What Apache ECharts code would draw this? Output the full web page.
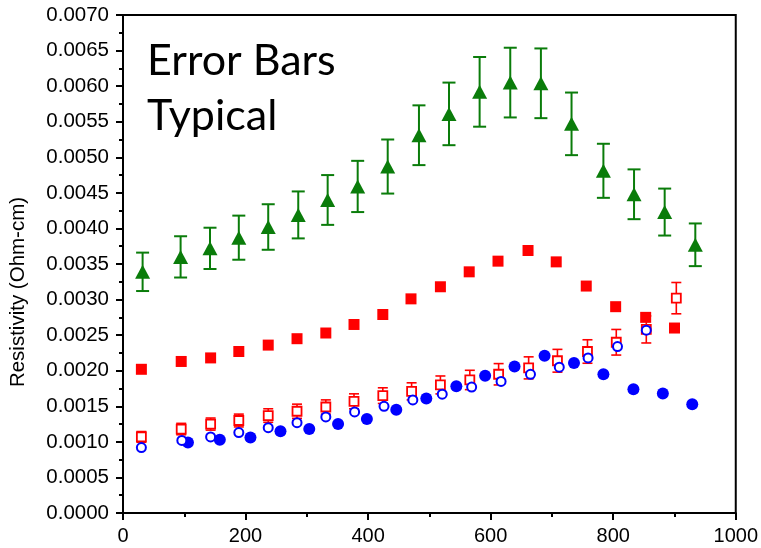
<!DOCTYPE html>
<html>
<head>
<meta charset="utf-8">
<script src="https://cdn.jsdelivr.net/npm/echarts@6/dist/echarts.min.js"></script>
<style>
  html, body { margin: 0; padding: 0; background: #fff; }
  #chart { width: 761px; height: 548px; }
</style>
</head>
<body>
<div id="chart"></div>
<script>
// Resistivity vs. position, five measurement sets

// Green triangles (with error bars)
const xGreen = [32, 94, 142, 189, 237, 286, 334, 383, 432, 483, 532, 582, 632, 682, 732, 784, 834, 884, 934];
const yGreen = [0.00339, 0.00360, 0.00372, 0.00387, 0.00402, 0.00419, 0.00440, 0.00459, 0.00487, 0.00531,
                0.00561, 0.00592, 0.00605, 0.00604, 0.00547, 0.00481, 0.00448, 0.00423, 0.00377];
const errGreen = [0.00027, 0.00029, 0.00029, 0.00031, 0.00032, 0.00033, 0.00035, 0.00036, 0.00038, 0.00042,
                  0.00044, 0.00049, 0.00049, 0.00049, 0.00044, 0.00038, 0.00035, 0.00033, 0.00030];

// Red filled squares
const xRedFilled = [30, 95, 143, 189, 237, 284, 331, 377, 424, 470, 518, 565, 612, 661, 707, 756, 804, 853, 900];
const yRedFilled = [0.00202, 0.00213, 0.00218, 0.00227, 0.00236, 0.00245, 0.00253, 0.00265, 0.00279, 0.00301,
                    0.00318, 0.00339, 0.00354, 0.00369, 0.00353, 0.00319, 0.00290, 0.00275, 0.00260];

// Red open squares (with error bars)
const xRedOpen = [30, 95, 143, 189, 237, 284, 331, 377, 424, 471, 518, 566, 613, 662, 709, 758, 805, 854, 903];
const yRedOpen = [0.00107, 0.00118, 0.00125, 0.00130, 0.00137, 0.00143, 0.00149, 0.00157, 0.00165, 0.00171,
                  0.00180, 0.00187, 0.00195, 0.00204, 0.00214, 0.00227, 0.00240, 0.00258, 0.00302];
const errRedOpen = [0.000075, 0.00008, 0.000085, 0.00009, 0.000095, 0.0001, 0.0001, 0.000105, 0.00011, 0.00012,
                    0.000126, 0.000136, 0.00015, 0.000155, 0.00016, 0.000165, 0.00018, 0.00019, 0.00022];

// Blue filled circles
const xBlueFilled = [106, 158, 208, 257, 304, 351, 398, 446, 495, 544, 591, 639, 688, 736, 784, 833, 881, 929];
const yBlueFilled = [0.00099, 0.00103, 0.00106, 0.00115, 0.00118, 0.00125, 0.00132, 0.00145, 0.00161, 0.00178,
                     0.00193, 0.00206, 0.00221, 0.00211, 0.00195, 0.00174, 0.00168, 0.00153];

// Blue open circles
const xBlueOpen = [30, 96, 143, 189, 237, 284, 331, 378, 426, 473, 521, 569, 617, 665, 712, 759, 807, 854];
const yBlueOpen = [0.00092, 0.00102, 0.00107, 0.00113, 0.00120, 0.00127, 0.00135, 0.00142, 0.00150, 0.00159,
                   0.00167, 0.00177, 0.00185, 0.00195, 0.00205, 0.00218, 0.00234, 0.00257];

// Axis ticks
const xTicks = { min: 0, max: 1000, step: 200 };
const yTicks = { min: 0, max: 0.007, step: 0.0005 };

const GREEN = '#0a7c0a';
const RED = '#ff0000';
const BLUE = '#0000ff';
const AXIS_FONT = '"Liberation Sans", Arial, sans-serif';

const zip = (xs, ys) => xs.map((x, i) => [x, ys[i]]);
const zip3 = (xs, ys, es) => xs.map((x, i) => [x, ys[i], es[i]]);

function errorBarSeries(data, color, capWidth, lineWidth) {
  return {
    type: 'custom',
    data: data,
    z: 1,
    silent: true,
    renderItem: function (params, api) {
      const x = api.value(0), y = api.value(1), e = api.value(2);
      const top = api.coord([x, y + e]);
      const bot = api.coord([x, y - e]);
      const hw = capWidth / 2;
      const style = { stroke: color, lineWidth: lineWidth, fill: null };
      return {
        type: 'group',
        children: [
          { type: 'line', shape: { x1: top[0], y1: top[1], x2: bot[0], y2: bot[1] }, style: style },
          { type: 'line', shape: { x1: top[0] - hw, y1: top[1], x2: top[0] + hw, y2: top[1] }, style: style },
          { type: 'line', shape: { x1: bot[0] - hw, y1: bot[1], x2: bot[0] + hw, y2: bot[1] }, style: style }
        ]
      };
    }
  };
}

const chart = echarts.init(document.getElementById('chart'), null, { renderer: 'canvas' });

chart.setOption({
  animation: false,
  backgroundColor: '#ffffff',
  grid: {
    left: 123, right: 23, top: 15, bottom: 35,
    show: true, borderColor: '#000', borderWidth: 2, backgroundColor: 'transparent'
  },
  xAxis: {
    type: 'value',
    min: xTicks.min, max: xTicks.max, interval: xTicks.step,
    axisLine: { show: true, onZero: false, lineStyle: { color: '#000', width: 2 } },
    axisTick: { show: true, inside: false, length: 7, lineStyle: { color: '#000', width: 2 } },
    minorTick: { show: true, splitNumber: 2, length: 4, lineStyle: { color: '#000', width: 2 } },
    splitLine: { show: false },
    axisLabel: {
      color: '#000', fontFamily: AXIS_FONT, fontSize: 20, margin: 13,
      formatter: v => String(v)
    }
  },
  yAxis: {
    type: 'value',
    min: yTicks.min, max: yTicks.max, interval: yTicks.step,
    axisLine: { show: true, onZero: false, lineStyle: { color: '#000', width: 2 } },
    axisTick: { show: true, inside: false, length: 7, lineStyle: { color: '#000', width: 2 } },
    minorTick: { show: true, splitNumber: 2, length: 4, lineStyle: { color: '#000', width: 2 } },
    splitLine: { show: false },
    axisLabel: {
      color: '#000', fontFamily: AXIS_FONT, fontSize: 20.5, margin: 14,
      formatter: v => v.toFixed(4)
    }
  },
  graphic: [
    {
      type: 'text',
      x: 18, y: 292,
      rotation: Math.PI / 2,
      style: {
        text: 'Resistivity (Ohm-cm)',
        fill: '#000',
        font: '20.5px "Liberation Sans", Arial, sans-serif',
        align: 'center',
        verticalAlign: 'middle'
      }
    },
    {
      type: 'text',
      left: 147, top: 34,
      style: {
        text: 'Error Bars\nTypical',
        fill: '#000',
        font: '43px Lato, "Open Sans", sans-serif',
        lineHeight: 55
      }
    }
  ],
  series: [
    errorBarSeries(zip3(xGreen, yGreen, errGreen), GREEN, 13, 2),
    errorBarSeries(zip3(xRedOpen, yRedOpen, errRedOpen), RED, 10, 1.6),
    {
      type: 'scatter', z: 2,
      data: zip(xGreen, yGreen),
      symbol: 'triangle', symbolSize: [15, 14],
      itemStyle: { color: GREEN, opacity: 1 }
    },
    {
      type: 'scatter', z: 2,
      data: zip(xRedFilled, yRedFilled),
      symbol: 'rect', symbolSize: 11,
      itemStyle: { color: RED, opacity: 1 }
    },
    {
      type: 'scatter', z: 3,
      data: zip(xRedOpen, yRedOpen),
      symbol: 'rect', symbolSize: 9,
      itemStyle: { color: '#fff', borderColor: RED, borderWidth: 1.8, opacity: 1 }
    },
    {
      type: 'scatter', z: 3,
      data: zip(xBlueFilled, yBlueFilled),
      symbol: 'circle', symbolSize: 12,
      itemStyle: { color: BLUE, opacity: 1 }
    },
    {
      type: 'scatter', z: 4,
      data: zip(xBlueOpen, yBlueOpen),
      symbol: 'circle', symbolSize: 9,
      itemStyle: { color: '#fff', borderColor: BLUE, borderWidth: 2, opacity: 1 }
    }
  ]
});
</script>
</body>
</html>
